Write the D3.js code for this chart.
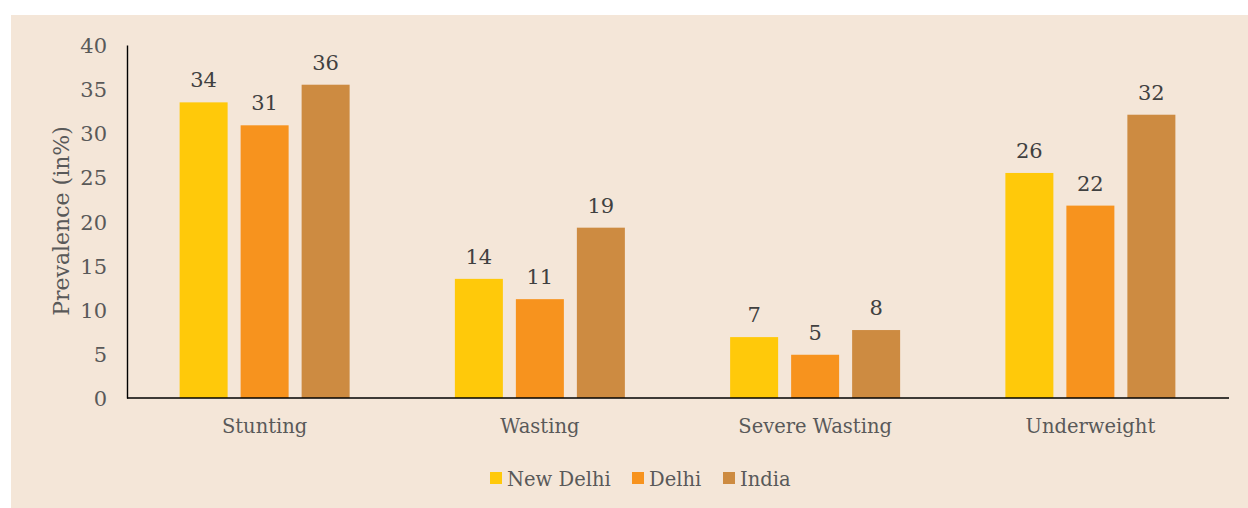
<!DOCTYPE html>
<html><head><meta charset="utf-8">
<script src="https://cdn.jsdelivr.net/npm/d3@7"></script>
<style>body{margin:0;background:#fff;} svg{display:block;} svg text{font-family:"DejaVu Serif",serif !important;}</style>
</head><body>
<svg id="c" width="1248" height="508"></svg>
<script>
const categories = ["Stunting", "Wasting", "Severe Wasting", "Underweight"];
const seriesNames = ["New Delhi", "Delhi", "India"];
const newDelhi = [33.5, 13.5, 6.9, 25.5];
const delhi = [30.9, 11.2, 4.9, 21.8];
const india = [35.5, 19.3, 7.7, 32.1];
const yTicks = [0, 5, 10, 15, 20, 25, 30, 35, 40];
const colors = ["#FFC90A", "#F7931E", "#CD8B41"];
const seriesValues = [newDelhi, delhi, india];

(function () {
const svg = d3.select("#c");
svg.append("rect").attr("x", 11).attr("y", 15).attr("width", 1237).attr("height", 493).attr("fill", "#F4E6D8");

const mL = 127, mR = 1228, mT = 45, mB = 398;
const y = d3.scaleLinear().domain([0, 40]).range([mB, mT]);
const x0 = d3.scaleBand().domain(categories).range([mL, mR]).padding(0);
const gw = x0.bandwidth();
const x1 = d3.scaleBand().domain(seriesNames).range([(gw - 170) / 2, (gw + 170) / 2]).paddingInner(13 / 61).paddingOuter(0);

const data = [];
categories.forEach((c, i) => seriesNames.forEach((s, j) => data.push({c, s, j, v: seriesValues[j][i]})));

svg.append("g").selectAll("rect").data(data).join("rect")
  .attr("x", d => x0(d.c) + x1(d.s))
  .attr("y", d => y(d.v))
  .attr("width", x1.bandwidth())
  .attr("height", d => y(0) - y(d.v))
  .attr("fill", d => colors[d.j]);

svg.append("g").selectAll("text").data(data).join("text")
  .attr("x", d => x0(d.c) + x1(d.s) + x1.bandwidth() / 2)
  .attr("y", d => y(d.v) - 15)
  .attr("text-anchor", "middle")
  .style("font-size", "21px").attr("fill", "#404040")
  .text(d => Math.round(d.v));

const yAxis = d3.axisLeft(y).tickValues(yTicks).tickSize(0).tickPadding(20);
const gy = svg.append("g").attr("transform", `translate(${mL},0)`).call(yAxis);
gy.select(".domain").attr("stroke", "#000").attr("stroke-width", 1.4);
gy.selectAll("text").style("font-size", "21px").attr("fill", "#595959").attr("dy", "0.36em");

const xAxis = d3.axisBottom(x0).tickSize(0).tickPadding(21);
const gx = svg.append("g").attr("transform", `translate(0,${mB})`).call(xAxis);
gx.select(".domain").attr("stroke", "#000").attr("stroke-width", 1.4).attr("d", `M${mL},0H${mR + 1}`);
gx.selectAll("text").style("font-size", "19.5px").attr("fill", "#595959").attr("dy", "0.71em");

svg.append("text")
  .attr("transform", `translate(69,221) rotate(-90)`)
  .attr("text-anchor", "middle")
  .style("font-size", "22px").attr("fill", "#595959")
  .text("Prevalence (in%)");

const legX = [490, 632, 723];
const lg = svg.append("g").selectAll("g").data(seriesNames).join("g")
  .attr("transform", (d, i) => `translate(${legX[i]},472)`);
lg.append("rect").attr("width", 12).attr("height", 12).attr("fill", (d, i) => colors[i]);
lg.append("text").attr("x", 17).attr("y", 14)
  .style("font-size", "19.5px").attr("fill", "#595959")
  .text(d => d);
})();
</script>
</body></html>
